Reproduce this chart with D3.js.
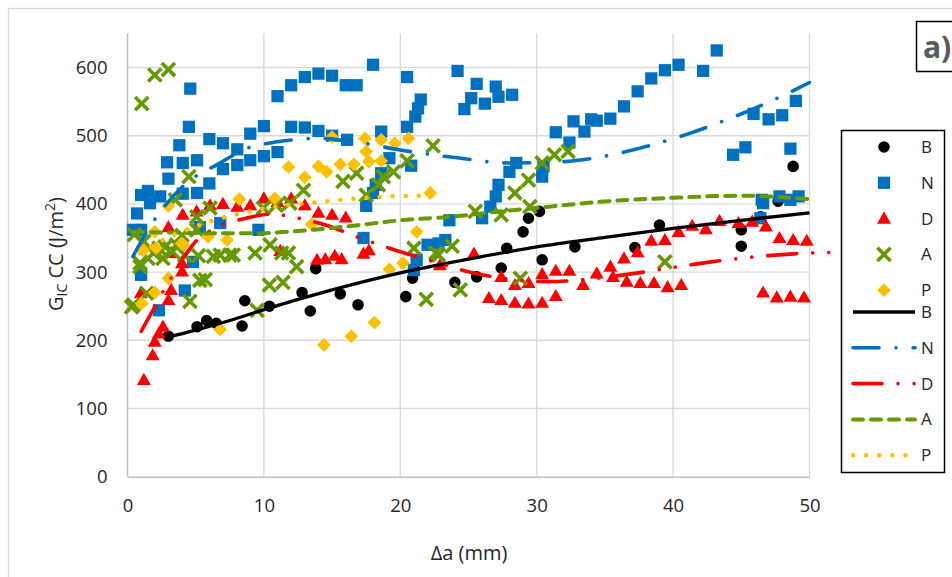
<!DOCTYPE html>
<html>
<head>
<meta charset="utf-8">
<script src="https://cdn.jsdelivr.net/npm/d3@7"></script>
<style>
  body { margin: 0; background: #fff; }
  svg { display: block; }
  text { font-family: "Open Sans", "DejaVu Sans", sans-serif; fill: #262626; }
</style>
</head>
<body>
<svg width="952" height="577"></svg>
<script>
// ---- data: [delta a (mm), G_IC CC (J/m2)] ----
const bPoints = [[3.0,206],[5.1,220],[5.8,229],[6.5,225],[8.4,221],[8.6,258],[10.4,250],[12.8,270],[13.4,243],[13.8,305],
  [15.6,268],[16.9,252],[20.4,264],[20.9,291],[24.0,285],[25.6,293],[27.4,306],[27.8,335],[29.0,359],[29.4,379],
  [30.2,389],[30.4,318],[32.8,337],[37.2,336],[39.0,369],[45.0,362],[45.0,338],[46.4,381],[47.7,404],[48.8,455]];

const nPoints = [[0.4,362],[1.0,362],[0.7,386],[1.0,413],[1.5,419],[1.65,401],[2.4,411],[1.0,296],[2.3,244],[2.9,461],
  [3.0,437],[3.8,486],[4.05,460],[4.05,415],[4.2,273],[4.5,513],[4.6,569],[4.8,315],[5.1,464],[5.1,416],[5.3,366],
  [6.0,495],[6.0,430],[6.8,372],[7.0,489],[7.0,451],[8.05,480],[8.05,457],[9.0,503],[9.0,464],[9.6,362],[10.0,514],
  [10.0,470],[11.0,558],[11.0,476],[12.0,574],[12.0,513],[13.0,586],[13.0,512],[14.0,591],[14.0,507],[15.0,588],
  [15.0,500],[16.0,574],[16.1,494],[16.8,574],[17.3,350],[17.5,397],[18.0,416],[18.0,604],[18.2,428],[18.6,445],
  [18.6,506],[19.2,467],[20.5,586],[20.5,513],[20.8,456],[21.0,303],[21.1,528],[21.2,318],[21.3,540],[21.5,553],
  [22.0,340],[22.8,342],[23.3,347],[23.6,376],[24.2,595],[24.7,539],[25.2,555],[25.6,576],[26.0,379],[26.2,547],
  [26.6,396],[27.0,411],[27.0,572],[27.2,428],[27.2,557],[28.0,447],[28.2,560],[28.5,460],[30.4,440],[30.5,455],
  [31.4,505],[32.4,490],[32.7,521],[33.5,506],[34.0,524],[34.4,522],[35.4,525],[36.4,543],[37.4,565],[38.4,584],
  [39.4,596],[40.4,604],[42.2,595],[43.2,625],[44.4,472],[45.3,483],[45.9,532],[46.4,379],[46.5,406],[46.6,401],
  [47.0,524],[47.8,411],[48.0,530],[48.6,481],[48.6,406],[49.0,551],[49.2,411]];

const dPoints = [[0.97,269],[1.2,142],[1.85,178],[2.0,198],[2.3,210],[2.6,220],[3.0,259],[3.2,274],[3.2,328],[4.0,301],
  [4.0,313],[3.0,366],[4.05,384],[5.07,389],[6.05,398],[7.0,400],[8.05,396],[9.0,398],[10.0,408],[11.0,403],
  [11.2,331],[12.0,408],[13.0,398],[13.9,318],[14.0,387],[14.5,319],[15.0,384],[15.2,324],[15.7,319],[16.0,380],
  [17.3,327],[17.7,332],[22.9,310],[25.4,327],[26.5,262],[27.4,293],[27.4,259],[28.4,281],[28.4,255],[29.4,284],
  [29.4,254],[30.4,297],[30.4,255],[31.4,302],[31.4,265],[32.4,302],[33.4,281],[34.4,298],[35.4,308],[35.6,293],
  [36.4,320],[36.6,286],[37.4,329],[37.6,284],[38.4,346],[38.6,284],[39.4,347],[39.6,278],[40.4,359],[40.6,281],
  [41.4,368],[42.4,363],[43.4,375],[44.8,372],[45.8,374],[46.6,270],[46.8,367],[47.6,263],[47.8,350],[48.6,264],
  [48.8,347],[49.6,263],[49.8,346]];

const aPoints = [[0.3,249],[0.43,252],[0.5,355],[0.92,308],[0.92,313],[1.04,547],[1.2,345],[1.4,269],[1.5,320],[1.9,328],
  [2.0,589],[2.3,335],[2.6,320],[2.75,337],[3.0,597],[3.3,330],[3.5,406],[3.6,340],[4.0,354],[4.2,325],[4.5,440],
  [4.58,257],[5.07,362],[5.07,381],[5.2,324],[5.3,288],[5.7,289],[6.05,394],[6.3,323],[6.8,325],[7.5,325],
  [7.76,325],[9.35,328],[9.5,244],[9.96,394],[10.4,281],[10.45,340],[10.9,398],[11.3,328],[11.4,285],[11.8,328],
  [11.9,401],[12.4,308],[12.9,420],[15.8,433],[16.8,445],[17.5,413],[18.4,428],[18.75,440],[19.5,447],[20.5,463],
  [21.0,335],[21.9,260],[22.4,485],[22.6,328],[22.8,325],[23.8,338],[24.4,274],[25.5,389],[27.4,384],[28.4,416],
  [28.8,291],[29.4,435],[29.5,396],[30.4,460],[31.3,472],[32.3,477],[39.4,315]];

const pPoints = [[1.04,254],[1.16,332],[2.0,270],[2.0,359],[2.1,335],[3.0,291],[3.0,397],[3.97,342],[4.1,340],[5.9,352],
  [6.8,216],[7.3,347],[8.2,407],[10.8,408],[11.8,454],[13.0,439],[13.5,370],[14.0,455],[14.4,193],[14.6,447],
  [15.0,498],[15.6,458],[16.4,206],[16.6,458],[17.4,496],[17.5,477],[17.7,462],[18.1,226],[18.6,494],[18.6,463],
  [19.2,304],[19.6,489],[20.2,313],[20.6,496],[21.2,359],[22.2,416]];

// trend lines, read at a handful of positions along each curve
const bTrend = [[3,205],[5,215],[7.5,229],[10,245],[15,274],[20,299],[25,319],[30,337],[35,351],[40,364],[45,376],[50,387]];
const nTrend = [[0.4,323],[1.5,362],[4.3,430],[6.7,459],[8.7,481],[11,491],[14,496],[17,490],[20,479],[24,468],[28,460],
  [32,462],[35,470],[38,484],[41,502],[44,524],[47,549],[50,578]];
const dTrend = [[1.0,213],[2.0,249],[3.0,285],[4.0,318],[5.0,345],[6.5,365],[8.7,379],[10.5,385],[12.3,380],[14.7,368],
  [16.9,351],[19.2,335],[22.5,315],[24.9,301],[28.3,289],[30.9,286],[33.9,290],[36.8,297],[40.4,308],[42.8,315],
  [46.3,323],[50,328],[52.4,329]];
const aTrend = [[0.4,359],[3,358],[6,357],[9.5,357],[11.7,359],[13.6,362],[17,369],[20,376],[23.6,381],[27.3,389],
  [31,396],[34,402],[40,409],[45,412],[50,407]];
const pTrend = [[0.9,328],[2.6,347],[4.3,362],[6,374],[8.25,386],[10.9,396],[13.6,402],[16.3,407],[19.2,411],[21.5,412]];

const xTicks = [0, 10, 20, 30, 40, 50];
const yTicks = [0, 100, 200, 300, 400, 500, 600];
const seriesNames = ["B", "N", "D", "A", "P"];

const svg = d3.select("svg");

const x = d3.scaleLinear().domain([0, 50]).range([127.5, 809.5]);
const y = d3.scaleLinear().domain([0, 650]).range([476.7, 33.4]);

// chart border
svg.append("rect").attr("x", 8.5).attr("y", 8.5).attr("width", 980).attr("height", 620)
   .attr("fill", "#fff").attr("stroke", "#d9d9d9").attr("stroke-width", 1.3);

// gridlines
svg.append("g").selectAll("line").data(xTicks.slice(1)).join("line")
   .attr("x1", d => x(d)).attr("x2", d => x(d)).attr("y1", y(650)).attr("y2", y(0))
   .attr("stroke", "#d9d9d9").attr("stroke-width", 1.4);
svg.append("g").selectAll("line").data(yTicks.slice(1)).join("line")
   .attr("x1", x(0)).attr("x2", x(50)).attr("y1", d => y(d)).attr("y2", d => y(d))
   .attr("stroke", "#d9d9d9").attr("stroke-width", 1.4);

// axes
const xAxis = svg.append("g").attr("transform", "translate(0," + y(0) + ")")
   .call(d3.axisBottom(x).tickValues(xTicks).tickSize(0).tickPadding(22));
const yAxis = svg.append("g").attr("transform", "translate(" + x(0) + ",0)")
   .call(d3.axisLeft(y).tickValues(yTicks).tickSize(0).tickPadding(20));
[xAxis, yAxis].forEach(a => {
    a.select(".domain").attr("stroke", "#bfbfbf").attr("stroke-width", 1.5);
    a.selectAll("text").style("font-size", "18.5px").attr("fill", "#262626")
     .style("font-family", "'Open Sans', sans-serif");
});
yAxis.select(".domain").attr("d", "M0," + y(650) + "V" + y(0));

// axis titles
svg.append("text").attr("x", 469).attr("y", 560).attr("text-anchor", "middle")
   .style("font-size", "20px").text("Δa (mm)");
const yt = svg.append("text").attr("transform", "translate(63,254) rotate(-90)")
   .attr("text-anchor", "middle").style("font-size", "20px");
yt.append("tspan").text("G");
yt.append("tspan").attr("dy", 4).style("font-size", "14px").text("IC");
yt.append("tspan").attr("dy", -4).text(" CC (J/m");
yt.append("tspan").attr("dy", -8).style("font-size", "14px").text("2");
yt.append("tspan").attr("dy", 8).text(")");

// markers
const colors = { B: "#000000", N: "#0070c0", D: "#ff0000", A: "#669900", P: "#ffc000" };
const marker = {
    B: d3.symbol(d3.symbolCircle, 105),
    N: d3.symbol(d3.symbolSquare, 150),
    D: d3.symbol(d3.symbolTriangle, 85),
    A: d3.symbol(d3.symbolX, 115),
    P: d3.symbol(d3.symbolSquare, 95)
};

function drawMarks(g, name, pts) {
    g.selectAll("path").data(pts).join("path")
        .attr("d", marker[name])
        .attr("transform", d => "translate(" + x(d[0]) + "," + y(d[1]) + ")" + (name === "P" ? " rotate(45)" : "") + (name === "D" ? " translate(0,1)" : ""))
        .attr("fill", name === "A" ? "none" : colors[name])
        .attr("stroke", name === "A" ? colors[name] : "none")
        .attr("stroke-width", 3.6);
}

const pointSets = [bPoints, nPoints, dPoints, aPoints, pPoints];
seriesNames.forEach((s, i) => drawMarks(svg.append("g"), s, pointSets[i]));

// trend lines
const lineStyle = {
    B: { w: 3.3, dash: null, cap: "butt" },
    N: { w: 3.6, dash: "26 17 0.1 17", cap: "round" },
    D: { w: 3.6, dash: "29 16 0.1 16 0.1 16", cap: "round" },
    A: { w: 4, dash: "10 8", cap: "round" },
    P: { w: 4.5, dash: "0.1 13", cap: "round" }
};
const trends = [bTrend, nTrend, dTrend, aTrend, pTrend];
const line = d3.line().x(d => x(d[0])).y(d => y(d[1])).curve(d3.curveMonotoneX);

seriesNames.forEach((s, i) => {
    svg.append("path").datum(trends[i]).attr("d", line)
        .attr("fill", "none").attr("stroke", colors[s])
        .attr("stroke-width", lineStyle[s].w)
        .attr("stroke-dasharray", lineStyle[s].dash)
        .attr("stroke-linecap", lineStyle[s].cap);
});

// "a)" label box
svg.append("rect").attr("x", 916.5).attr("y", 21.5).attr("width", 60).attr("height", 50)
   .attr("fill", "#fff").attr("stroke", "#000").attr("stroke-width", 1.5);
svg.append("text").attr("x", 923).attr("y", 58).style("font-size", "30px").style("font-weight", "bold")
   .style("fill", "#595959").text("a)");

// legend: marker rows, then line rows (the reference packs the P row close to the first line row)
const legend = svg.append("g");
legend.append("rect").attr("x", 841.5).attr("y", 130.5).attr("width", 103).attr("height", 342)
   .attr("fill", "#fff").attr("stroke", "#000").attr("stroke-width", 1.5);

seriesNames.forEach((s, i) => {
    const ly = 147 + 35.8 * i;
    const g = legend.append("g");
    g.append("path").attr("d", marker[s])
        .attr("transform", "translate(884," + ly + ")" + (s === "P" ? " rotate(45)" : "") + (s === "D" ? " translate(0,1)" : ""))
        .attr("fill", s === "A" ? "none" : colors[s])
        .attr("stroke", s === "A" ? colors[s] : "none").attr("stroke-width", 3.6);
    g.append("text").attr("x", 921).attr("y", ly + 6).style("font-size", "17px").text(s);

    const ly2 = 312 + 35.8 * i;
    legend.append("line").attr("x1", 853).attr("x2", 915).attr("y1", ly2).attr("y2", ly2)
        .attr("stroke", colors[s]).attr("stroke-width", lineStyle[s].w)
        .attr("stroke-dasharray", lineStyle[s].dash).attr("stroke-linecap", lineStyle[s].cap);
    legend.append("text").attr("x", 921).attr("y", ly2 + 6).style("font-size", "17px").text(s);
});
</script>
</body>
</html>
